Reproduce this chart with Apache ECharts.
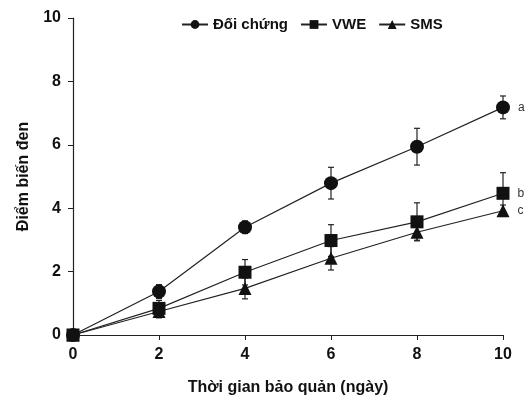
<!DOCTYPE html>
<html>
<head>
<meta charset="utf-8">
<script src="https://cdn.jsdelivr.net/npm/echarts@6/dist/echarts.min.js"></script>
<style>
  html, body { margin: 0; padding: 0; background: #fff; }
  #myChart { width: 528px; height: 401px; }
</style>
</head>
<body>
<div id="myChart"></div>
<script>
    // ngày bảo quản
    var days = [0, 2, 4, 6, 8, 10];
    var yTicks = [0, 2, 4, 6, 8, 10];

    // điểm trung bình
    var doiChung = [0, 1.37, 3.40, 4.79, 5.94, 7.18];
    var vwe = [0, 0.84, 1.98, 2.98, 3.57, 4.47];
    var sms = [0, 0.74, 1.47, 2.42, 3.24, 3.92];

    // độ lệch chuẩn
    var doiChungErr = [0, 0.22, 0.2, 0.5, 0.58, 0.36];
    var vweErr = [0, 0.25, 0.4, 0.5, 0.6, 0.65];
    var smsErr = [0, 0.2, 0.33, 0.37, 0.25, 0.18];

    var seriesNames = ['Đối chứng', 'VWE', 'SMS'];
    var letters = ['a', 'b', 'c'];

    var FONT = '"Liberation Sans", Arial, sans-serif';
    var myChart;

    function toPairs(vals) {
        var out = [];
        for (var i = 0; i < days.length; i++) {
            out.push([days[i], vals[i]]);
        }
        return out;
    }

    function toErrData(vals, errs) {
        var out = [];
        for (var i = 0; i < days.length; i++) {
            if (errs[i] > 0) out.push([days[i], vals[i] - errs[i], vals[i] + errs[i]]);
        }
        return out;
    }

    function renderErrBar(params, api) {
        var lo = api.coord([api.value(0), api.value(1)]);
        var hi = api.coord([api.value(0), api.value(2)]);
        var cap = 3;
        var style = { stroke: '#222', lineWidth: 1.2 };
        return {
            type: 'group',
            children: [
                { type: 'line', shape: { x1: hi[0], y1: hi[1], x2: lo[0], y2: lo[1] }, style: style },
                { type: 'line', shape: { x1: hi[0] - cap, y1: hi[1], x2: hi[0] + cap, y2: hi[1] }, style: style },
                { type: 'line', shape: { x1: lo[0] - cap, y1: lo[1], x2: lo[0] + cap, y2: lo[1] }, style: style }
            ]
        };
    }

    function lineSeries(idx, vals, symbol, size) {
        var data = toPairs(vals).map(function (p, i) {
            if (i === days.length - 1) {
                return {
                    value: p,
                    label: {
                        show: true, position: 'right', distance: 8,
                        formatter: letters[idx], color: '#333',
                        fontFamily: FONT, fontSize: 12
                    }
                };
            }
            return p;
        });
        return {
            name: seriesNames[idx],
            type: 'line',
            data: data,
            symbol: symbol,
            symbolSize: size,
            z: 3,
            lineStyle: { color: '#222', width: 1.2 },
            itemStyle: { color: '#111' },
            emphasis: { disabled: true }
        };
    }

    function errSeries(vals, errs) {
        return {
            type: 'custom',
            renderItem: renderErrBar,
            data: toErrData(vals, errs),
            z: 2,
            silent: true
        };
    }

    function init() {
        myChart = echarts.init(document.getElementById('myChart'));
        var option = {
            animation: false,
            backgroundColor: '#fff',
            grid: { left: 73, right: 25, top: 18, bottom: 66, outerBoundsMode: 'none' },
            legend: {
                data: seriesNames,
                top: 12,
                left: 176,
                itemWidth: 26,
                itemHeight: 11,
                itemGap: 12,
                textStyle: { fontFamily: FONT, fontWeight: 'bold', fontSize: 15, color: '#111' }
            },
            xAxis: {
                type: 'value',
                min: 0, max: 10, interval: 2,
                name: 'Thời gian bảo quản (ngày)',
                nameLocation: 'middle',
                nameGap: 45,
                nameTextStyle: { fontFamily: FONT, fontWeight: 'bold', fontSize: 16, color: '#111' },
                axisLine: { lineStyle: { color: '#222', width: 1.2 } },
                axisTick: { show: true, length: 5, lineStyle: { color: '#222' } },
                axisLabel: { fontFamily: FONT, fontWeight: 'bold', fontSize: 16, color: '#111', margin: 12 },
                splitLine: { show: false }
            },
            yAxis: {
                type: 'value',
                min: yTicks[0], max: yTicks[yTicks.length - 1], interval: 2,
                name: 'Điểm biến đen',
                nameLocation: 'middle',
                nameGap: 41,
                nameTextStyle: { fontFamily: FONT, fontWeight: 'bold', fontSize: 16, color: '#111' },
                axisLine: { show: true, lineStyle: { color: '#222', width: 1.2 } },
                axisTick: { show: true, length: 5, lineStyle: { color: '#222' } },
                axisLabel: { fontFamily: FONT, fontWeight: 'bold', fontSize: 16, color: '#111', margin: 12 },
                splitLine: { show: false }
            },
            series: [
                errSeries(doiChung, doiChungErr),
                errSeries(vwe, vweErr),
                errSeries(sms, smsErr),
                lineSeries(0, doiChung, 'circle', 14),
                lineSeries(1, vwe, 'rect', 13),
                lineSeries(2, sms, 'triangle', 13)
            ]
        };
        myChart.setOption(option);
    }

    init();
</script>
</body>
</html>
